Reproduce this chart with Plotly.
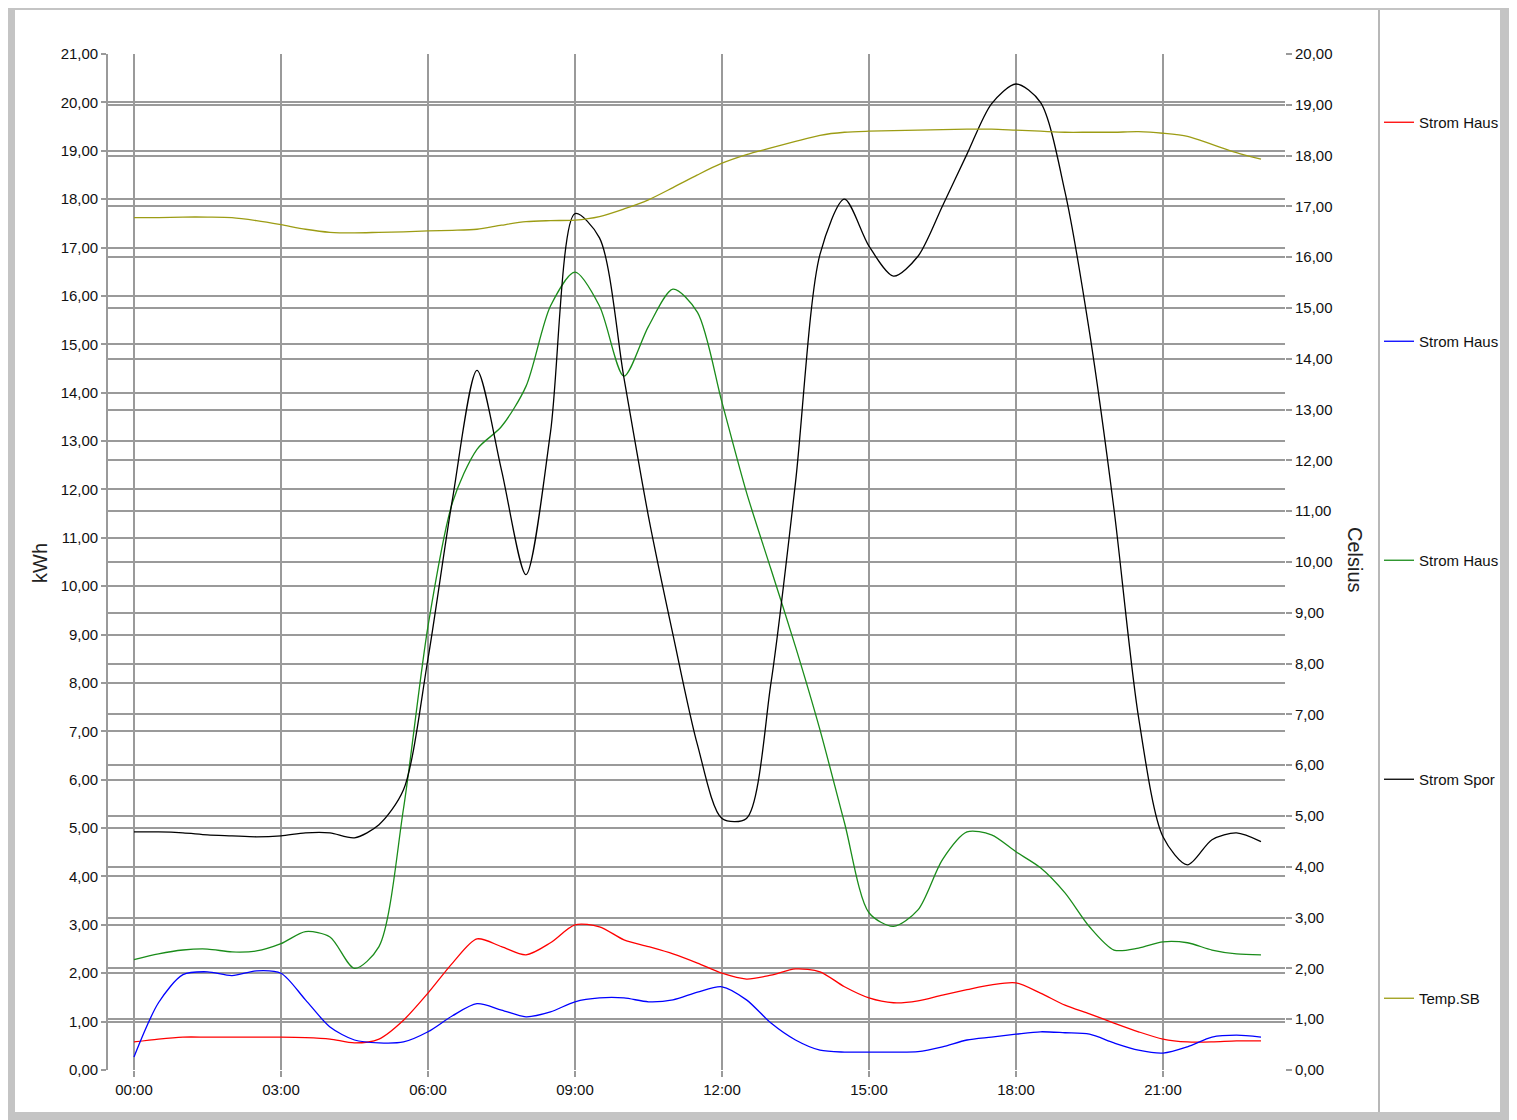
import plotly.graph_objects as go

# time of day in hours (half-hour steps)
hours = [i * 0.5 for i in range(47)]

strom_haus_1 = [0.58, 0.64, 0.68, 0.68, 0.68, 0.68, 0.68, 0.67, 0.64, 0.56,
                0.64, 1.03, 1.59, 2.21, 2.71, 2.55, 2.38, 2.63, 3.00, 2.96,
                2.69, 2.55, 2.40, 2.21, 2.00, 1.88, 1.96, 2.09, 2.03, 1.72,
                1.49, 1.39, 1.43, 1.55, 1.66, 1.76, 1.80, 1.59, 1.34, 1.16,
                0.97, 0.79, 0.64, 0.58, 0.58, 0.60, 0.60]

strom_haus_2 = [0.27, 1.39, 1.97, 2.03, 1.95, 2.05, 2.00, 1.45, 0.89, 0.62,
                0.56, 0.58, 0.79, 1.12, 1.37, 1.24, 1.10, 1.20, 1.41, 1.49,
                1.49, 1.41, 1.45, 1.61, 1.72, 1.45, 0.97, 0.62, 0.41, 0.37,
                0.37, 0.37, 0.38, 0.48, 0.62, 0.68, 0.74, 0.79, 0.77, 0.74,
                0.56, 0.41, 0.35, 0.48, 0.68, 0.72, 0.68]

strom_haus_3 = [2.28, 2.40, 2.48, 2.50, 2.44, 2.46, 2.61, 2.86, 2.75, 2.10,
                2.55, 5.40, 9.17, 11.73, 12.83, 13.30, 14.13, 15.79, 16.49, 15.79,
                14.34, 15.37, 16.14, 15.66, 13.80, 11.94, 10.35, 8.75, 7.03, 5.11,
                3.25, 2.97, 3.31, 4.35, 4.92, 4.86, 4.51, 4.18, 3.66, 2.96,
                2.48, 2.52, 2.65, 2.63, 2.48, 2.40, 2.38]

strom_sport = [4.92, 4.92, 4.90, 4.86, 4.84, 4.82, 4.84, 4.90, 4.90, 4.80,
               5.07, 5.79, 8.50, 11.80, 14.46, 12.40, 10.24, 13.18, 17.70, 17.20,
               14.30, 11.44, 9.00, 6.72, 5.20, 5.20, 8.00, 12.14, 16.86, 18.00,
               17.03, 16.41, 16.82, 17.86, 18.93, 19.97, 20.38, 20.00, 18.15, 15.25,
               11.59, 7.30, 4.82, 4.24, 4.76, 4.90, 4.72]

temp_sb = [16.78, 16.78, 16.79, 16.79, 16.78, 16.72, 16.64, 16.55, 16.49, 16.48,
           16.49, 16.50, 16.52, 16.53, 16.55, 16.63, 16.70, 16.72, 16.73, 16.80,
           16.95, 17.13, 17.37, 17.62, 17.85, 18.02, 18.15, 18.28, 18.40, 18.46,
           18.48, 18.49, 18.50, 18.51, 18.52, 18.52, 18.50, 18.48, 18.46, 18.46,
           18.46, 18.47, 18.44, 18.38, 18.22, 18.06, 17.93]

x_tickvals = [0, 3, 6, 9, 12, 15, 18, 21]
x_ticktext = ["00:00", "03:00", "06:00", "09:00", "12:00", "15:00", "18:00", "21:00"]

series = [
    ("Strom Haus", strom_haus_1, "#ff0000", "y"),
    ("Strom Haus", strom_haus_2, "#0000ff", "y"),
    ("Strom Haus", strom_haus_3, "#1a8c1a", "y"),
    ("Strom Spor", strom_sport, "#000000", "y"),
    ("Temp.SB", temp_sb, "#9c9c14", "y2"),
]

FONT = "Liberation Sans, Arial, sans-serif"
GRID = "#9a9a9a"

fig = go.Figure()
for i, (name, vals, color, ax) in enumerate(series):
    fig.add_trace(go.Scatter(
        x=hours, y=vals, name=name, yaxis=ax, mode="lines",
        line=dict(color=color, width=1.3, shape="spline", smoothing=0.8),
        legendgroup="g%d" % i,
    ))

# page is offset by the 8px body margin
OFF = 8
W, H = 1517 - OFF, 1120 - OFF
# plot area in page pixels
L, R, T, B = 108, 1285, 54, 1070
def px(x):
    return (x - L) / (R - L)
def py(y):
    return (B - y) / (B - T)

shapes = [
    # white panel
    dict(type="rect", xref="paper", yref="paper", x0=px(15), x1=px(1500), y0=py(1112), y1=py(10),
         fillcolor="white", line=dict(width=0), layer="below"),
    # separator line for legend panel
    dict(type="line", xref="paper", yref="paper", x0=px(1379), x1=px(1379), y0=py(1112), y1=py(10),
         line=dict(color="#a0a0a0", width=1.5), layer="below"),
]

annotations = [
    dict(text="kWh", xref="paper", yref="paper", x=px(40), y=py(563), showarrow=False,
         xanchor="center", yanchor="middle",
         textangle=-90, font=dict(family=FONT, size=20, color="#222")),
    dict(text="Celsius", xref="paper", yref="paper", x=px(1355), y=py(560), showarrow=False,
         xanchor="center", yanchor="middle",
         textangle=90, font=dict(family=FONT, size=20, color="#222")),
]

fig.update_layout(
    width=W, height=H,
    margin=dict(l=L - OFF, r=W - (R - OFF), t=T - OFF, b=H - (B - OFF), autoexpand=False),
    paper_bgcolor="#c4c4c4",
    plot_bgcolor="white",
    separators=",.",
    font=dict(family=FONT, size=15, color="#111"),
    shapes=shapes,
    annotations=annotations,
    showlegend=True,
    legend=dict(x=px(1379), y=py(106), xanchor="left", yanchor="top",
                bgcolor="rgba(0,0,0,0)", traceorder="grouped", tracegroupgap=196.5,
                font=dict(family=FONT, size=15, color="#111"), itemwidth=30),
    xaxis=dict(range=[-0.53, 23.49], tickvals=x_tickvals, ticktext=x_ticktext,
               showgrid=True, gridcolor=GRID, gridwidth=1.6, zeroline=False,
               ticks="outside", ticklen=6, tickcolor=GRID, tickwidth=1.6, showline=False),
    yaxis=dict(range=[0, 21], dtick=1, tickformat=".2f", showgrid=True, gridcolor=GRID,
               gridwidth=1.6, zeroline=False, showline=True, linecolor=GRID, linewidth=1.6,
               ticks="outside", ticklen=5, tickcolor=GRID, tickwidth=1.6),
    yaxis2=dict(range=[0, 20], dtick=1, tickformat=".2f", overlaying="y", side="right",
                showgrid=True, gridcolor=GRID, gridwidth=1.6, zeroline=False, showline=False,
                ticks="outside", ticklen=6, tickcolor=GRID, tickwidth=1.6),
)

fig.write_html("out.html")
